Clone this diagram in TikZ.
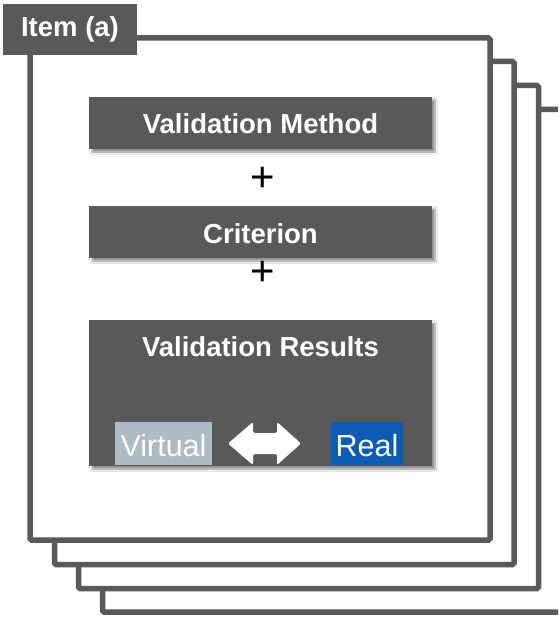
\documentclass[tikz,border=0pt]{standalone}
\usepackage{fontspec}
\setmainfont{Liberation Sans}
\usetikzlibrary{shadows.blur}
\definecolor{dgrey}{HTML}{595959}
\definecolor{virt}{HTML}{ACBBC4}
\definecolor{realb}{HTML}{0A5CB6}
\tikzset{
  frame/.style={draw=dgrey, line width=5.5pt, fill=white, rounded corners=1.5pt},
  header/.style={fill=dgrey, draw=none, blur shadow={shadow xshift=3pt, shadow yshift=-3pt, shadow blur steps=6, shadow opacity=45}},
  htext/.style={text=white, font=\fontsize{27.5}{30}\selectfont\bfseries, inner sep=0pt, anchor=base},
  ltext/.style={text=white, font=\fontsize{30.5}{33}\selectfont, inner sep=0pt, anchor=base},
  plus/.style={text=black, font=\fontsize{42}{44}\selectfont, inner sep=0pt, anchor=base},
}
\begin{document}
\begin{tikzpicture}[x=1pt, y=-1pt]
\useasboundingbox (0,0) rectangle (558,617);
\clip (0,0) rectangle (558,617);
% stacked frames (back to front)
\draw[frame] (102.5,109.5) rectangle (600,612);
\draw[frame] (78.5,85.5) rectangle (538.5,588.5);
\draw[frame] (54.5,61.5) rectangle (514,564.5);
\draw[frame] (30,38) rectangle (490,540);
% item label
\fill[dgrey] (3,4) rectangle (137,55);
\node[htext] (item) at (70,37) {Item (a)};
% boxes
\path[header] (89,97) rectangle (432,149);
\node[htext] (vm) at (260.5,134) {Validation Method};
\node[plus] (p1) at (263,192) {+};
\path[header] (89,206) rectangle (432,258);
\node[htext] (cr) at (260.5,243.5) {Criterion};
\node[plus] (p2) at (263,285) {+};
\path[header] (89,320) rectangle (432,466);
\node[htext] (vr) at (260.5,356) {Validation Results};
% virtual / real
\fill[virt] (115,422) rectangle (212,465);
\node[ltext] (virtual) at (163.5,456) {Virtual};
\fill[realb] (331,422) rectangle (403,465);
\node[ltext] (real) at (367,456) {Real};
% double arrow
\fill[white, rounded corners=1.5pt] (228,443.5) -- (253,422) -- (253,433) -- (277,433) -- (277,422) -- (301,443.5) -- (277,465) -- (277,454) -- (253,454) -- (253,465) -- cycle;
\end{tikzpicture}
\end{document}
